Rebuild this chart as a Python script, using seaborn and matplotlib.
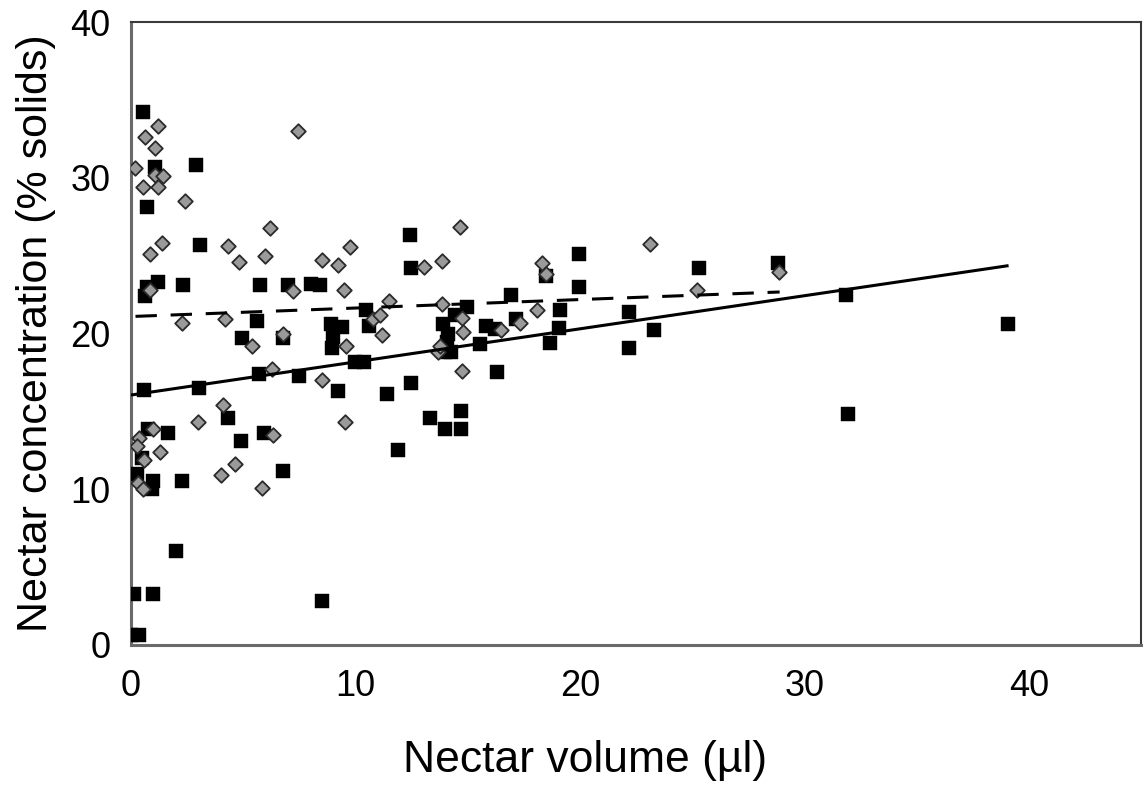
import numpy as np
import pandas as pd
import matplotlib
matplotlib.use("Agg")
import matplotlib.pyplot as plt
import seaborn as sns

# ---- data ----
square_x = [0.52, 1.07, 2.88, 0.73, 3.07, 1.19, 0.70, 2.33, 5.74, 7.00, 8.00, 8.41,
            0.62, 10.46, 5.62, 8.93, 9.38, 9.00, 8.97, 10.61, 4.93, 6.75, 10.0, 10.4,
            5.71, 7.48, 3.03, 0.58, 9.23, 4.33, 0.77, 1.66, 5.92, 4.88, 0.48, 6.78,
            0.25, 0.99, 2.26, 0.92, 2.00, 0.13, 0.99, 8.49, 0.0, 0.35, 12.45, 12.49,
            18.47, 19.98, 19.98, 16.94, 14.97, 14.42, 13.90, 14.12, 14.08, 14.27, 13.97,
            15.83, 16.20, 17.17, 19.12, 19.09, 18.65, 15.53, 16.30, 12.49, 11.41, 14.72,
            13.31, 13.97, 14.72, 11.90, 22.18, 22.20, 23.29, 25.32, 28.84, 31.85, 31.95,
            39.06]
square_y = [34.2, 30.7, 30.8, 28.1, 25.7, 23.3, 23.0, 23.1, 23.1, 23.1, 23.2, 23.1,
            22.4, 21.5, 20.8, 20.6, 20.4, 19.8, 19.1, 20.5, 19.7, 19.7, 18.2, 18.2,
            17.4, 17.3, 16.5, 16.4, 16.3, 14.6, 13.9, 13.6, 13.6, 13.1, 12.0, 11.2,
            11.0, 10.5, 10.5, 10.0, 6.05, 3.26, 3.26, 2.83, 0.65, 0.65, 26.3, 24.2,
            23.7, 25.1, 23.0, 22.5, 21.7, 21.2, 20.6, 20.0, 19.45, 18.8, 18.8,
            20.5, 20.3, 20.9, 21.5, 20.35, 19.4, 19.3, 17.5, 16.8, 16.1, 15.05,
            14.6, 13.85, 13.85, 12.55, 21.4, 19.1, 20.2, 24.2, 24.55, 22.45, 14.85,
            20.6]

diamond_x = [1.22, 0.62, 1.07, 0.18, 1.07, 1.41, 0.52, 1.22, 2.40, 7.45, 6.19, 1.37,
             0.85, 4.33, 4.82, 5.96, 8.49, 9.23, 9.75, 0.85, 7.22, 9.48, 2.26, 4.18,
             6.75, 5.37, 9.60, 10.78, 6.26, 8.53, 4.08, 3.00, 9.52, 0.99, 6.33, 0.36,
             0.25, 1.29, 0.58, 4.63, 3.99, 0.33, 0.55, 5.82, 14.64, 13.05, 13.87, 18.30,
             18.47, 11.48, 11.08, 11.18, 13.87, 14.76, 14.79, 13.68, 13.75, 16.50, 17.34,
             18.08, 14.76, 23.13, 25.22, 28.88]
diamond_y = [33.3, 32.6, 31.9, 30.6, 30.2, 30.1, 29.4, 29.4, 28.5, 33.0, 26.8, 25.8,
             25.1, 25.6, 24.6, 24.95, 24.7, 24.4, 25.55, 22.8, 22.7, 22.8, 20.7, 20.9,
             20.0, 19.2, 19.2, 20.9, 17.7, 17.0, 15.4, 14.3, 14.3, 13.9, 13.5, 13.3,
             12.8, 12.4, 11.9, 11.6, 10.9, 10.4, 10.0, 10.1, 26.85, 24.3, 24.65, 24.55,
             23.8, 22.1, 21.2, 19.9, 21.9, 21.0, 20.1, 18.8, 19.2, 20.2, 20.7,
             21.5, 17.6, 25.77, 22.8, 23.95]

# fitted trend lines (intercept, slope, x-range)
solid_fit = {"intercept": 16.05, "slope": 0.2125, "xmin": 0.0, "xmax": 39.1}
dashed_fit = {"intercept": 21.09, "slope": 0.0545, "xmin": 0.2, "xmax": 28.9}

x_ticks = [0, 10, 20, 30, 40]
y_ticks = [0, 10, 20, 30, 40]

# ---- plotting ----
sns.set_theme(style="white")
plt.rcParams["font.family"] = ["Liberation Sans", "DejaVu Sans"]

fig = plt.figure(figsize=(11.44, 7.89), dpi=100)
ax = fig.add_axes([131 / 1144, 1 - 645 / 789, (1141 - 131) / 1144, (645 - 22) / 789])

sq = pd.DataFrame({"x": square_x, "y": square_y})
dm = pd.DataFrame({"x": diamond_x, "y": diamond_y})

sns.scatterplot(data=sq, x="x", y="y", marker="s", s=98, color="black",
                edgecolor="black", linewidth=0.3, ax=ax, zorder=3)
sns.scatterplot(data=dm, x="x", y="y", marker="D", s=55, color="#9a9a9a",
                edgecolor="#2a2a2a", linewidth=1.3, ax=ax, zorder=4)

xs = np.array([solid_fit["xmin"], solid_fit["xmax"]])
ax.plot(xs, solid_fit["intercept"] + solid_fit["slope"] * xs, color="black", lw=2.2,
        zorder=5, solid_capstyle="butt")
xd = np.array([dashed_fit["xmin"], dashed_fit["xmax"]])
ax.plot(xd, dashed_fit["intercept"] + dashed_fit["slope"] * xd, color="black", lw=2.2,
        dashes=(7, 4.5), zorder=5)

ax.set_xlim(0, 45)
ax.set_ylim(0, 40)
ax.set_xticks(x_ticks)
ax.set_yticks(y_ticks)
ax.set_xticks(np.arange(0, 46, 5), minor=True)
ax.set_yticks(np.arange(0, 41, 5), minor=True)
ax.tick_params(axis="both", which="both", direction="out", length=4, width=1,
               color="#b0b0b0", labelsize=26, labelcolor="black")
ax.tick_params(axis="y", which="major", pad=11)
ax.tick_params(axis="x", which="major", pad=13)

for side in ["top", "right"]:
    ax.spines[side].set_color("#3a3a3a")
    ax.spines[side].set_linewidth(1.5)
for side in ["left", "bottom"]:
    ax.spines[side].set_color("#6a6a6a")
    ax.spines[side].set_linewidth(2.2)

ax.set_xlabel("Nectar volume (\u00b5l)", fontsize=32, labelpad=26, color="black")
ax.xaxis.label.set_x(0.45)
ax.set_ylabel("Nectar concentration (% solids)", fontsize=31, labelpad=10, color="black")
ax.grid(False)

fig.savefig("out.png", dpi=100)
